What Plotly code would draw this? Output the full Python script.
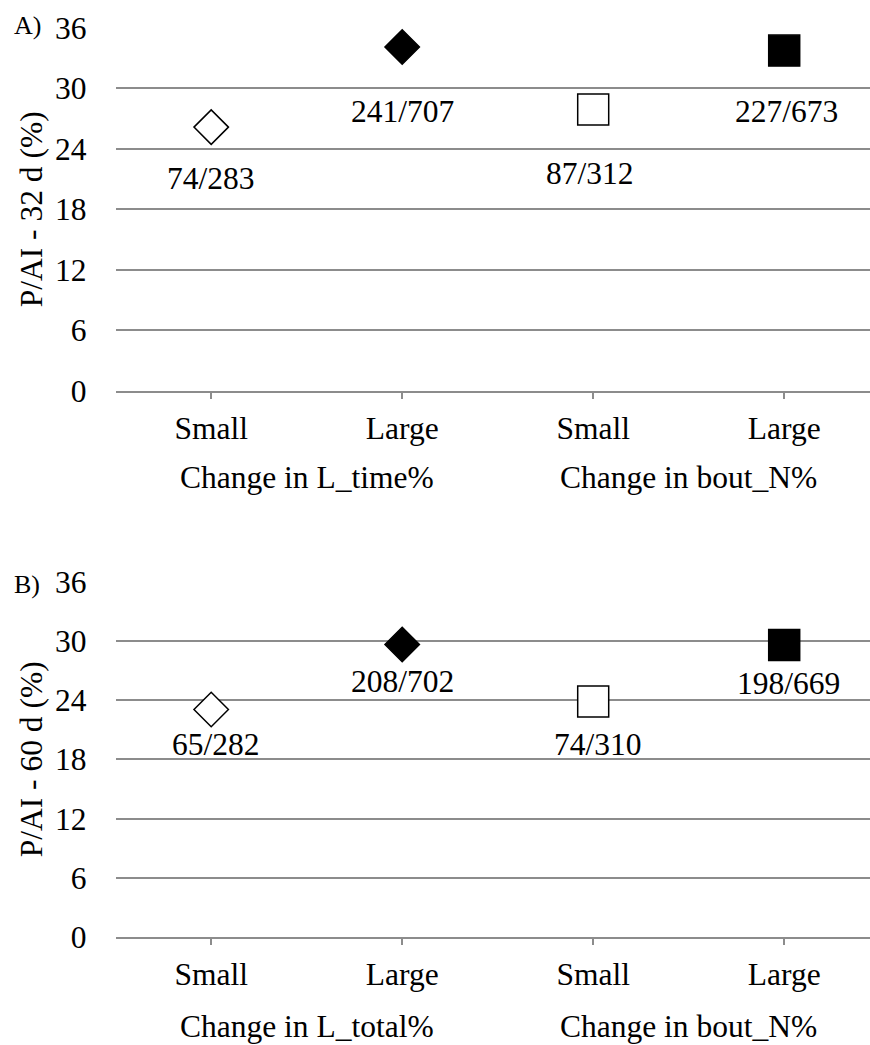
import plotly.graph_objects as go

# ---- data ----
categories = ["Small", "Large", "Small", "Large"]
groups_a = ["Change in L_time%", "Change in bout_N%"]
groups_b = ["Change in L_total%", "Change in bout_N%"]
pregnant_a = [74, 241, 87, 227]
total_a = [283, 707, 312, 673]
pregnant_b = [65, 208, 74, 198]
total_b = [282, 702, 310, 669]
yticks = [0, 6, 12, 18, 24, 30, 36]

# ---- styles ----
symbols = ["diamond", "diamond", "square", "square"]
fills = ["white", "black", "white", "black"]
sizes = [26.5, 26.5, 31, 31]
label_shift_a = [(0, -51), (0, -65), (-3, -64), (2, -61)]
label_shift_b = [(5, -35), (0, -37), (5, -43), (4, -39)]

FONT = "Liberation Serif"
FS = 31.5
GRID = "#8c8c8c"
W, H = 870, 1045

xidx = list(range(len(categories)))
pct_a = [100 * p / t for p, t in zip(pregnant_a, total_a)]
pct_b = [100 * p / t for p, t in zip(pregnant_b, total_b)]

fig = go.Figure()
annotations = []

panels = [
    dict(x="x", y="y", pct=pct_a, preg=pregnant_a, tot=total_a, shifts=label_shift_a,
         groups=groups_a, dom=(1 - 391 / H, 1 - 27.7 / H), title="P/AI - 32 d (%)",
         letter="A)", letter_y=26, tick_shift=-87, standoff=2),
    dict(x="x2", y="y2", pct=pct_b, preg=pregnant_b, tot=total_b, shifts=label_shift_b,
         groups=groups_b, dom=(1 - 937 / H, 1 - 581.7 / H), title="P/AI - 60 d (%)",
         letter="B)", letter_y=584, tick_shift=-89, standoff=2),
]

for p in panels:
    fig.add_trace(go.Scatter(
        x=xidx, y=p["pct"], mode="markers", xaxis=p["x"], yaxis=p["y"],
        marker=dict(symbol=symbols, color=fills, size=sizes, opacity=1,
                    line=dict(color="black", width=1.5)),
        cliponaxis=False, showlegend=False, hoverinfo="skip"))
    for i, (pr, to) in enumerate(zip(p["preg"], p["tot"])):
        dx, dy = p["shifts"][i]
        annotations.append(dict(
            x=xidx[i], y=p["pct"][i], xref=p["x"], yref=p["y"],
            text=f"{pr}/{to}", showarrow=False, xshift=dx, yshift=dy,
            xanchor="center", yanchor="middle",
            font=dict(family=FONT, size=FS, color="black")))
    for g, name in enumerate(p["groups"]):
        annotations.append(dict(
            x=2 * g + 0.5, y=0, xref=p["x"], yref=p["y"] + " domain",
            text=name, showarrow=False, yshift=p["tick_shift"],
            xanchor="center", yanchor="middle",
            font=dict(family=FONT, size=FS, color="black")))
    annotations.append(dict(
        x=31 / W, y=(p["dom"][0] + p["dom"][1]) / 2, xref="paper", yref="paper",
        text=p["title"], textangle=-90, showarrow=False,
        xanchor="center", yanchor="middle",
        font=dict(family=FONT, size=FS, color="black")))
    annotations.append(dict(
        x=27 / W, y=1 - p["letter_y"] / H, xref="paper", yref="paper",
        text=p["letter"], showarrow=False, xanchor="center", yanchor="middle",
        font=dict(family=FONT, size=26, color="black")))

xaxis_common = dict(
    range=[-0.5, (W - 115.7) / 191 - 0.5], domain=[115.7 / W, 1],
    tickmode="array", tickvals=xidx, ticktext=categories,
    ticks="outside", ticklen=6, tickwidth=2, tickcolor=GRID,
    showline=True, linecolor=GRID, linewidth=2, showgrid=False, zeroline=False,
    tickfont=dict(family=FONT, size=FS, color="black"), automargin=False,
)
yaxis_common = dict(
    range=[0, 36], tickmode="array", tickvals=yticks,
    showgrid=True, gridcolor=GRID, gridwidth=2, zeroline=False, showline=False,
    ticks="outside", ticklen=22, tickcolor="rgba(0,0,0,0)",
    tickfont=dict(family=FONT, size=FS, color="black"), automargin=False,
)

fig.update_layout(
    width=W, height=H, margin=dict(l=0, r=0, t=0, b=0, autoexpand=False),
    paper_bgcolor="white", plot_bgcolor="white",
    xaxis=dict(**xaxis_common, anchor="y", ticklabelstandoff=panels[0]["standoff"]),
    yaxis=dict(**yaxis_common, domain=list(panels[0]["dom"]), anchor="x"),
    xaxis2=dict(**xaxis_common, anchor="y2", ticklabelstandoff=panels[1]["standoff"]),
    yaxis2=dict(**yaxis_common, domain=list(panels[1]["dom"]), anchor="x2"),
    annotations=annotations,
)

fig.write_html("out.html")
